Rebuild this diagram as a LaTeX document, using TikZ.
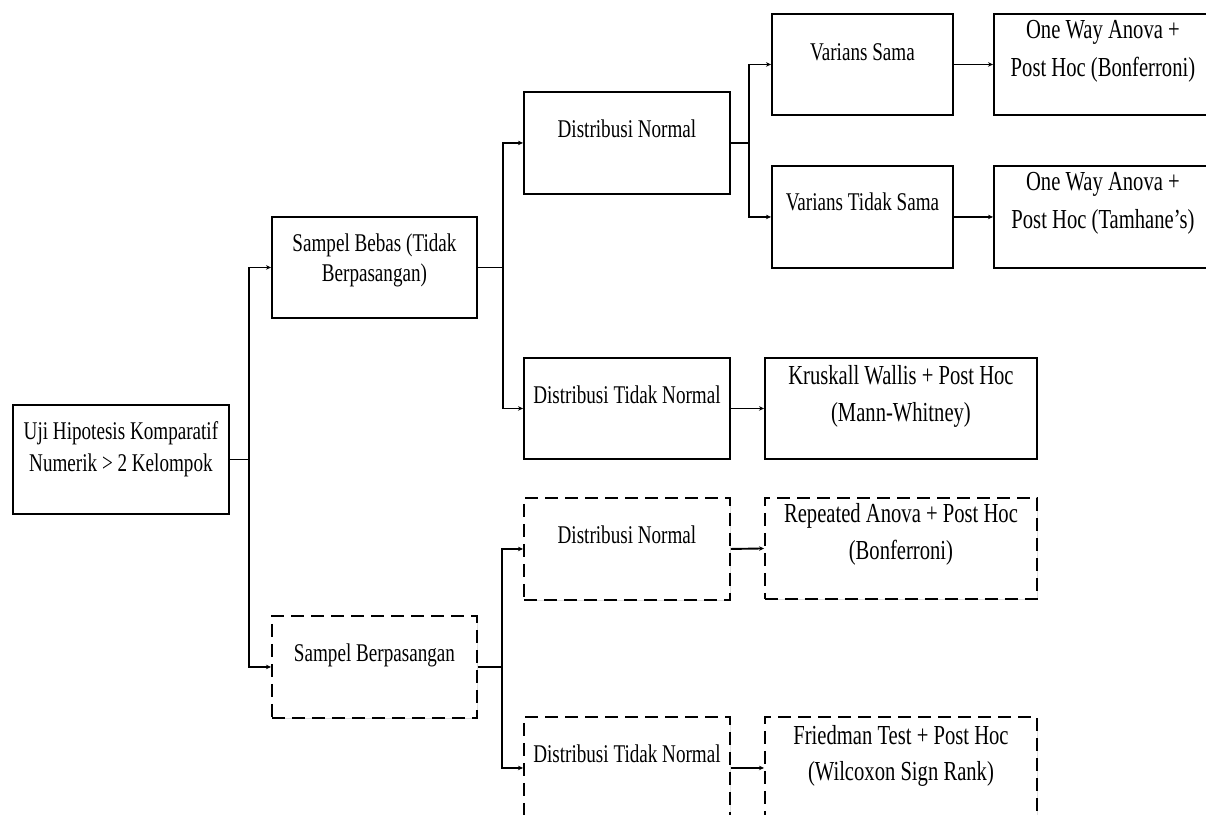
\documentclass[tikz,border=0pt]{standalone}
\usepackage{fontspec}
\setmainfont[FakeStretch=0.75]{Liberation Serif}
\usetikzlibrary{arrows.meta,shadows}

\tikzset{
  box/.style={draw, line width=1.9pt, fill=white, anchor=north west, inner sep=0pt,
    drop shadow={shadow xshift=1.5pt, shadow yshift=-1.5pt, fill=black!12, opacity=1}},
  dbox/.style={box, dash pattern=on 13pt off 7pt},
  conn/.style={line width=1.9pt, -{Stealth[length=5pt, width=4.5pt]}},
  lbl/.style={anchor=north, align=center, inner sep=0pt, font=\fontsize{25.5}{30}\selectfont},
  rlbl/.style={lbl, font=\fontsize{27.5}{38}\selectfont},
}

\begin{document}
\begin{tikzpicture}[x=1pt, y=-1pt]
\useasboundingbox (0,0) rectangle (1206,814);
\clip (0,0) rectangle (1206,814);

% level 0
\node[box, minimum width=216pt, minimum height=109pt,
  label={[lbl, font=\fontsize{25.5}{32}\selectfont, yshift=-17pt]north:{Uji Hipotesis Komparatif\\Numerik > 2 Kelompok}}] (root) at (12,404) {};

% level 1
\node[box, minimum width=205pt, minimum height=101pt,
  label={[lbl, yshift=-18pt]north:{Sampel Bebas (Tidak\\Berpasangan)}}] (sb) at (271,216) {};
\node[dbox, minimum width=205pt, minimum height=102pt,
  label={[lbl, yshift=-29pt]north:Sampel Berpasangan}] (sbp) at (271,615) {};

% level 2
\node[box, minimum width=206pt, minimum height=102pt,
  label={[lbl, yshift=-29pt]north:Distribusi Normal}] (dn1) at (523,91) {};
\node[box, minimum width=206pt, minimum height=101pt,
  label={[lbl, yshift=-29pt]north:Distribusi Tidak Normal}] (dtn1) at (523,357) {};
\node[dbox, minimum width=206pt, minimum height=102pt,
  label={[lbl, yshift=-29pt]north:Distribusi Normal}] (dn2) at (523,497) {};
\node[dbox, minimum width=206pt, minimum height=102pt,
  label={[lbl, yshift=-29pt]north:Distribusi Tidak Normal}] (dtn2) at (523,716) {};

% level 3
\node[box, minimum width=181pt, minimum height=101pt,
  label={[lbl, yshift=-30pt]north:Varians Sama}] (vs) at (771,13) {};
\node[box, minimum width=181pt, minimum height=102pt,
  label={[lbl, yshift=-28pt]north:Varians Tidak Sama}] (vts) at (771,165) {};

% results
\node[box, minimum width=218pt, minimum height=101pt,
  label={[rlbl, yshift=-7pt]north:{One Way Anova +\\Post Hoc (Bonferroni)}}] (ow1) at (993,13) {};
\node[box, minimum width=218pt, minimum height=102pt,
  label={[rlbl, yshift=-7pt]north:{One Way Anova +\\Post Hoc (Tamhane’s)}}] (ow2) at (993,165) {};
\node[box, minimum width=272pt, minimum height=101pt,
  label={[rlbl, font=\fontsize{27.5}{37}\selectfont, yshift=-8pt]north:{Kruskall Wallis + Post Hoc\\(Mann-Whitney)}}] (kw) at (764,357) {};
\node[dbox, minimum width=272pt, minimum height=101pt,
  label={[rlbl, font=\fontsize{27.5}{37}\selectfont, yshift=-6pt]north:{Repeated Anova + Post Hoc\\(Bonferroni)}}] (ra) at (764,497) {};
\node[dbox, minimum width=272pt, minimum height=102pt,
  label={[rlbl, font=\fontsize{27.5}{36}\selectfont, yshift=-9pt]north:{Friedman Test + Post Hoc\\(Wilcoxon Sign Rank)}}] (ft) at (764,716) {};

% connectors
\draw[conn] (root.east) -- ++(19,0) |- (sb.west);
\draw[conn] (root.east) -- ++(19,0) |- (sbp.west);
\draw[conn] (sb.east) -- ++(25,0) |- (dn1.west);
\draw[conn] (sb.east) -- ++(25,0) |- (dtn1.west);
\draw[conn] (sbp.east) -- ++(24,0) |- (dn2.west);
\draw[conn] (sbp.east) -- ++(24,0) |- (dtn2.west);
\draw[conn] (dn1.east) -- ++(18,0) |- (vs.west);
\draw[conn] (dn1.east) -- ++(18,0) |- (vts.west);
\draw[conn] (vs.east) -- (ow1.west);
\draw[conn] (vts.east) -- (ow2.west);
\draw[conn] (dtn1.east) -- (kw.west);
\draw[conn] (dn2.east) -- (ra.west);
\draw[conn] (dtn2.east) -- (ft.west);
\end{tikzpicture}
\end{document}
